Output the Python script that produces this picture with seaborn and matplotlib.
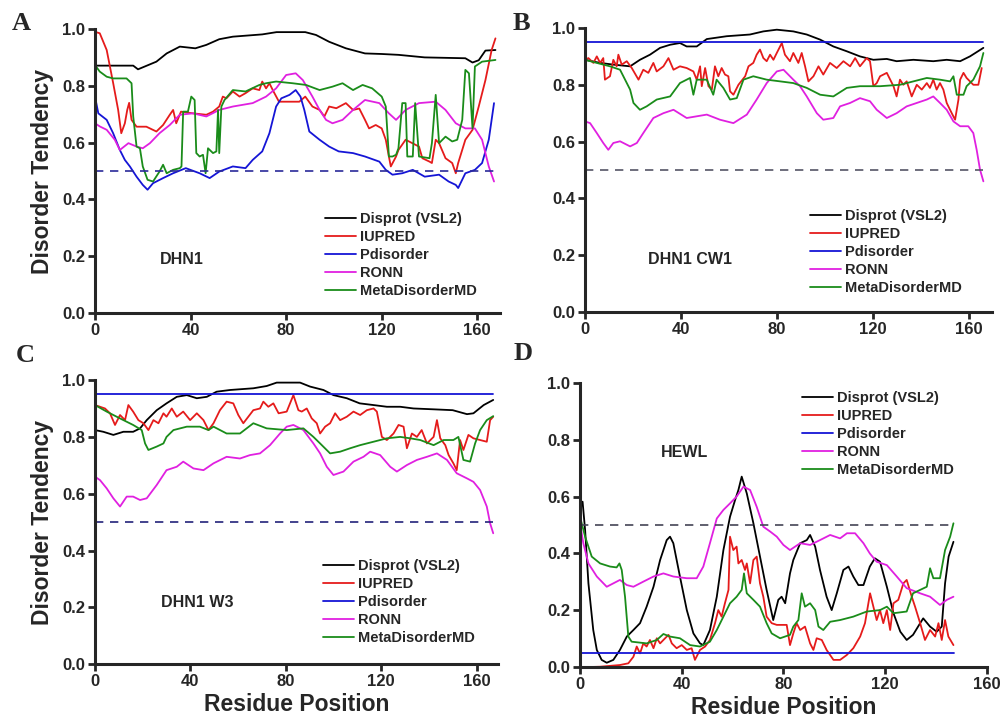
import matplotlib
matplotlib.use('Agg')
import matplotlib.pyplot as plt
import seaborn as sns

sns.set_style('ticks')
plt.rcParams['font.family'] = ['Liberation Sans', 'DejaVu Sans']
plt.rcParams['font.weight'] = 'bold'

labels = ['Disprot (VSL2)', 'IUPRED', 'Pdisorder', 'RONN', 'MetaDisorderMD']
colors = ['black', '#e51b1b', '#1515d6', '#e020e0', '#1a8c1a']
threshold = 0.5

# ---- panel A: DHN1 ----
a_vsl2_x = [0, 16, 18, 25.7, 30, 35.5, 42, 46.6, 52, 57.7, 70, 76, 88, 92.5, 98, 105, 113, 120, 127, 138, 155, 158, 160.6, 163.4, 167.6]
a_vsl2_y = [0.871, 0.871, 0.858, 0.885, 0.914, 0.938, 0.932, 0.944, 0.964, 0.973, 0.981, 0.989, 0.989, 0.979, 0.955, 0.932, 0.914, 0.912, 0.909, 0.90, 0.897, 0.882, 0.89, 0.924, 0.926]
a_iupred_x = [0, 2, 4.9, 7.6, 9.7, 11, 12.5, 13.5, 14.3, 15.3, 17.4, 21.5, 25.7, 28.5, 31.3, 32.7, 34, 36, 41, 46.6,
              49.4, 52, 53.5, 55, 57.7, 60.5, 63, 66, 68.8, 70, 71.6, 73, 74.4, 77, 85.5, 88, 91, 94, 96, 98,
              101, 105, 108, 110.6, 113, 114.7, 117.5, 120, 121.7, 123, 123.8, 126, 127, 130, 132.8, 135.6, 137, 140, 141, 142.6,
              144, 146.7, 149.5, 151, 152, 155, 158, 160.6, 163.4, 166, 167.6]
a_iupred_y = [0.99, 0.985, 0.926, 0.81, 0.715, 0.633, 0.668, 0.715, 0.74, 0.68, 0.656, 0.656, 0.639, 0.662, 0.698, 0.715, 0.668, 0.709, 0.703, 0.698,
              0.709, 0.727, 0.762, 0.756, 0.78, 0.762, 0.774, 0.791, 0.785, 0.815, 0.791, 0.809, 0.785, 0.744, 0.744, 0.762, 0.727, 0.715, 0.692, 0.727,
              0.721, 0.739, 0.715, 0.72, 0.68, 0.65, 0.662, 0.65, 0.61, 0.551, 0.516, 0.551, 0.574, 0.61, 0.598, 0.586, 0.545, 0.533, 0.528, 0.61,
              0.598, 0.545, 0.528, 0.492, 0.528, 0.61, 0.645, 0.727, 0.82, 0.926, 0.967]
a_pdis_x = [0, 1.4, 4.9, 7.6, 10.4, 12.5, 14.6, 17.4, 20, 22, 24.3, 28.5, 32.7, 38, 43.8, 48, 52, 57.7, 63, 66,
            70, 73, 75.8, 78, 81.4, 84, 86, 87.6, 89.7, 94, 98, 102, 108, 113, 119, 121.7, 124.5, 128.6, 133, 138,
            144, 148, 151, 152, 155, 159, 162, 164.8, 167]
a_pdis_y = [0.762, 0.703, 0.68, 0.633, 0.574, 0.539, 0.516, 0.48, 0.451, 0.434, 0.457, 0.475, 0.492, 0.51, 0.492, 0.475, 0.498, 0.516, 0.51, 0.539,
            0.569, 0.633, 0.727, 0.756, 0.768, 0.785, 0.762, 0.715, 0.639, 0.61, 0.586, 0.569, 0.563, 0.551, 0.533, 0.504, 0.487, 0.492, 0.504, 0.48,
            0.487, 0.463, 0.451, 0.44, 0.492, 0.504, 0.528, 0.61, 0.739]
a_ronn_x = [0, 2, 4.9, 8.3, 10.4, 14, 17.4, 20, 23, 27, 31.3, 35.5, 41, 46.6, 52, 57.7, 66, 71.6, 75.8, 80,
            84, 87, 91, 94, 96.7, 99.4, 103.6, 108, 113, 119, 123, 126, 130, 135.6, 142.6, 146.7, 151, 155, 159, 162,
            164.8, 167]
a_ronn_y = [0.668, 0.657, 0.645, 0.61, 0.574, 0.598, 0.586, 0.58, 0.598, 0.633, 0.662, 0.698, 0.703, 0.692, 0.715, 0.727, 0.739, 0.762, 0.791, 0.838,
            0.844, 0.82, 0.762, 0.715, 0.68, 0.668, 0.68, 0.715, 0.75, 0.739, 0.703, 0.68, 0.715, 0.739, 0.744, 0.715, 0.668, 0.65, 0.65, 0.61,
            0.516, 0.463]
a_meta_x = [0, 2, 4.9, 7.6, 13.2, 15.3, 16, 17.4, 18.8, 20, 22, 24.3, 27, 28.5, 30, 32.7, 35.5, 36.2, 36.9, 38.9,
            40.3, 41.7, 42.4, 43.8, 45.2, 46.3, 47.3, 49.4, 50.8, 51.5, 52, 52.9, 54.2, 57.7, 63, 68.8, 71.6, 75.8, 82.7, 88.3,
            94, 99.4, 103.6, 108, 112, 116, 120, 121.7, 123, 124.5, 126, 127, 128.6, 130, 130.7, 133, 134, 135.6, 140, 141,
            142.6, 144, 146.7, 149.5, 151.6, 153.7, 155, 156.5, 158, 159, 162, 167.6]
a_meta_y = [0.873, 0.85, 0.832, 0.826, 0.826, 0.809, 0.692, 0.586, 0.58, 0.516, 0.469, 0.463, 0.498, 0.522, 0.492, 0.504, 0.51, 0.516, 0.709, 0.709,
            0.762, 0.75, 0.563, 0.551, 0.557, 0.492, 0.58, 0.563, 0.569, 0.715, 0.563, 0.727, 0.75, 0.785, 0.78, 0.803, 0.809, 0.815, 0.809, 0.803,
            0.785, 0.797, 0.809, 0.785, 0.803, 0.791, 0.762, 0.727, 0.551, 0.551, 0.557, 0.58, 0.739, 0.739, 0.551, 0.551, 0.739, 0.551, 0.545, 0.598,
            0.768, 0.598, 0.621, 0.604, 0.61, 0.68, 0.856, 0.844, 0.65, 0.868, 0.885, 0.891]

# ---- panel B: DHN1 CW1 ----
b_vsl2_x = [0, 6.3, 11.8, 18.8, 22.9, 27.1, 31.3, 35.5, 39.6, 42.4, 46.6, 50.8, 59.1, 68.8, 74.4, 80, 86.9, 92.5, 98.1, 103.6,
            109.2, 114.7, 120.3, 125.9, 130, 137, 145.3, 150.9, 156.5, 160.6, 166.2]
b_vsl2_y = [0.888, 0.877, 0.871, 0.865, 0.888, 0.906, 0.93, 0.941, 0.947, 0.935, 0.935, 0.961, 0.971, 0.977, 0.988, 0.994, 0.988, 0.977, 0.959, 0.935,
            0.918, 0.9, 0.888, 0.891, 0.883, 0.888, 0.883, 0.888, 0.883, 0.9, 0.93]
b_iupred_x = [0, 1.4, 3.5, 4.9, 6.3, 7.6, 8.3, 10.4, 11.8, 13.2, 13.9, 15.3, 17.4, 19.5, 22.3, 24.3, 26.4, 28.5, 29.9, 32.7,
              34.8, 36.9, 39.6, 42.4, 45.2, 46.6, 48, 48.7, 50.1, 51.5, 52.9, 54.2, 55.6, 57, 58.4, 59.8, 60.5, 61.9, 64, 66.8,
              68.2, 70.2, 71.6, 73, 74.4, 75.8, 77.2, 78.6, 80, 82.1, 83.4, 85.5, 86.9, 89, 90.4, 91.8, 93.2, 95.3, 97.4, 99.4,
              102.2, 105, 107.8, 110.6, 112.7, 114.7, 117.5, 118.9, 120.3, 121.7, 123.1, 125.9, 128.7, 130, 131.4, 132.8, 134.2, 136.3, 138.4, 140.5,
              142.6, 143.9, 145.3, 146.7, 148.1, 149.5, 150.9, 153, 154.4, 155.8, 156.5, 157.9, 159.2, 162, 164.1, 165.5]
b_iupred_y = [0.888, 0.894, 0.877, 0.9, 0.877, 0.894, 0.818, 0.83, 0.888, 0.865, 0.906, 0.871, 0.883, 0.859, 0.818, 0.853, 0.842, 0.877, 0.847, 0.865,
              0.894, 0.853, 0.865, 0.859, 0.847, 0.818, 0.865, 0.795, 0.859, 0.795, 0.783, 0.865, 0.83, 0.859, 0.836, 0.83, 0.777, 0.765, 0.8, 0.83,
              0.865, 0.877, 0.906, 0.924, 0.894, 0.883, 0.906, 0.888, 0.912, 0.947, 0.906, 0.883, 0.912, 0.877, 0.912, 0.865, 0.812, 0.83, 0.865, 0.836,
              0.877, 0.859, 0.883, 0.865, 0.894, 0.865, 0.894, 0.883, 0.795, 0.806, 0.83, 0.842, 0.795, 0.759, 0.818, 0.8, 0.812, 0.759, 0.8, 0.783,
              0.806, 0.789, 0.818, 0.783, 0.806, 0.783, 0.736, 0.7, 0.677, 0.748, 0.818, 0.842, 0.824, 0.8, 0.8, 0.859]
b_pdis_x = [0, 166]
b_pdis_y = [0.95, 0.95]
b_ronn_x = [0, 2.1, 4.9, 7.6, 9.7, 11.8, 14.6, 18.8, 21.6, 24.3, 28.5, 32.7, 36.9, 42.4, 46.6, 50.8, 56.3, 61.9, 67.5, 71.6,
            75.8, 80, 82.8, 86.9, 89.7, 92.5, 96.7, 99.4, 103.6, 106.4, 110.6, 114.7, 118.9, 121.7, 125.9, 130, 134.2, 138.4, 142.6, 145.3,
            148.1, 150.9, 153.7, 156.5, 159.9, 162, 163.4, 164.8, 166.2]
b_ronn_y = [0.671, 0.665, 0.63, 0.595, 0.571, 0.595, 0.601, 0.583, 0.595, 0.63, 0.683, 0.7, 0.712, 0.683, 0.689, 0.695, 0.677, 0.665, 0.695, 0.748,
            0.806, 0.847, 0.853, 0.818, 0.795, 0.759, 0.7, 0.677, 0.683, 0.724, 0.736, 0.753, 0.742, 0.712, 0.683, 0.7, 0.724, 0.736, 0.748, 0.759,
            0.736, 0.712, 0.671, 0.654, 0.654, 0.63, 0.571, 0.501, 0.46]
b_meta_x = [0, 4.9, 10.4, 14.6, 16.7, 18.8, 20.2, 22.9, 25.7, 29.9, 35.5, 39.6, 43.8, 45.2, 46.6, 50.8, 53.5, 54.9, 57.7, 60.5,
            63.3, 66.1, 70.2, 75.8, 81.4, 86.9, 92.5, 98.1, 103.6, 109.2, 114.7, 123.1, 131.4, 137, 142.6, 148.1, 152.3, 153.7, 155.1, 157.9,
            159.2, 162, 164.8, 166.2]
b_meta_y = [0.888, 0.877, 0.865, 0.853, 0.818, 0.783, 0.736, 0.712, 0.724, 0.748, 0.759, 0.806, 0.824, 0.765, 0.818, 0.818, 0.765, 0.818, 0.789, 0.748,
            0.753, 0.818, 0.83, 0.818, 0.812, 0.806, 0.789, 0.765, 0.759, 0.789, 0.795, 0.795, 0.8, 0.812, 0.824, 0.818, 0.812, 0.83, 0.765, 0.765,
            0.795, 0.818, 0.865, 0.912]

# ---- panel C: DHN1 W3 ----
c_vsl2_x = [0, 3.5, 7.7, 11.9, 16, 18.9, 21.7, 25.9, 30, 34.3, 38.5, 42.7, 46.9, 51, 56.6, 66.4, 72, 76.2, 86, 90.2,
            95.8, 100, 105.6, 111, 116.8, 122.4, 128, 133.6, 142, 150, 156, 158.7, 163, 167]
c_vsl2_y = [0.824, 0.818, 0.807, 0.818, 0.818, 0.83, 0.859, 0.894, 0.918, 0.941, 0.947, 0.936, 0.941, 0.959, 0.965, 0.971, 0.979, 0.991, 0.991, 0.977,
            0.965, 0.947, 0.936, 0.918, 0.912, 0.906, 0.906, 0.9, 0.897, 0.894, 0.88, 0.883, 0.912, 0.93]
c_iupred_x = [0, 2.1, 4.2, 6.3, 8.4, 10.5, 12.6, 14, 16, 18.2, 20.3, 22.4, 24.5, 26.6, 28.7, 30, 32.2, 34.3, 37, 39.9,
              42.7, 45.5, 47.6, 49.7, 52.4, 55.2, 58, 60.1, 62.2, 64.3, 66.4, 69.2, 70.6, 72.7, 74.8, 77, 80.4, 83.2, 85.3, 86.7,
              88.8, 90.9, 93, 94.4, 96.5, 98.6, 100.7, 102.8, 105.6, 108.4, 111.2, 114, 116.8, 118.2, 120.3, 122.4, 125.2, 127.3, 129.4, 130.8,
              132.9, 135, 137, 139.2, 142, 143.4, 144.8, 146.9, 148.3, 150.3, 151.7, 153.1, 154.5, 156.6, 158.7, 161.5, 164.3, 165.7, 167]
c_iupred_y = [0.912, 0.906, 0.9, 0.883, 0.842, 0.877, 0.859, 0.912, 0.889, 0.859, 0.848, 0.824, 0.859, 0.848, 0.883, 0.871, 0.9, 0.871, 0.889, 0.859,
              0.883, 0.859, 0.824, 0.848, 0.894, 0.924, 0.918, 0.877, 0.848, 0.871, 0.894, 0.9, 0.924, 0.906, 0.918, 0.883, 0.889, 0.947, 0.894, 0.889,
              0.9, 0.865, 0.848, 0.812, 0.836, 0.848, 0.883, 0.859, 0.871, 0.889, 0.877, 0.894, 0.9, 0.889, 0.8, 0.789, 0.812, 0.842, 0.836, 0.76,
              0.812, 0.8, 0.824, 0.777, 0.8, 0.859, 0.795, 0.771, 0.736, 0.707, 0.683, 0.789, 0.754, 0.807, 0.795, 0.789, 0.783, 0.859, 0.871]
c_pdis_x = [0, 167]
c_pdis_y = [0.95, 0.95]
c_ronn_x = [0, 2.1, 4.9, 7.7, 10.5, 13.3, 16, 18.9, 21.7, 25.9, 30, 34.3, 37, 41.3, 45.5, 49.7, 55.2, 60.8, 65, 69.2,
            73.4, 77.6, 80.4, 83.2, 87.4, 91.6, 94.4, 97.2, 100, 104.2, 108.4, 112.6, 115.4, 119.6, 123.8, 126.6, 130.8, 135, 139.2, 143.4,
            147.6, 151.7, 156, 158.7, 161.5, 164.3, 165.7, 167]
c_ronn_y = [0.66, 0.648, 0.619, 0.584, 0.555, 0.59, 0.59, 0.578, 0.584, 0.631, 0.683, 0.695, 0.713, 0.689, 0.683, 0.707, 0.73, 0.724, 0.736, 0.742,
            0.771, 0.812, 0.836, 0.842, 0.824, 0.777, 0.742, 0.695, 0.666, 0.678, 0.713, 0.73, 0.748, 0.736, 0.695, 0.678, 0.701, 0.719, 0.73, 0.742,
            0.719, 0.672, 0.654, 0.642, 0.613, 0.555, 0.496, 0.461]
c_meta_x = [0, 4.9, 10.5, 16, 19.6, 21, 22.4, 25.9, 28.7, 30, 32.9, 38.5, 44, 47.6, 49.7, 55.2, 60.8, 66.4, 72, 80.4,
            87.4, 91.6, 94.4, 98.6, 102.8, 107, 111.2, 116.8, 122.4, 128, 132.2, 136.4, 142, 146.2, 150.3, 152.4, 154.5, 157.3, 159.4, 161.5,
            164.3, 167]
c_meta_y = [0.912, 0.889, 0.865, 0.842, 0.824, 0.777, 0.754, 0.766, 0.777, 0.8, 0.824, 0.836, 0.836, 0.824, 0.836, 0.812, 0.812, 0.848, 0.83, 0.824,
            0.83, 0.8, 0.777, 0.742, 0.748, 0.76, 0.771, 0.783, 0.795, 0.8, 0.795, 0.789, 0.771, 0.789, 0.789, 0.8, 0.719, 0.713, 0.777, 0.824,
            0.859, 0.873]

# ---- panel D: HEWL ----
d_vsl2_x = [0, 1, 2, 3.3, 5.2, 6.6, 8.5, 10.5, 13.1, 15.7, 18.4, 21, 23.6, 26.2, 28.9, 31.5, 34.1, 35.4, 36.7, 39.3,
            42, 44.6, 47.2, 48.5, 51.1, 53.8, 56.4, 59, 61, 62.3, 63.6, 65.6, 68.2, 70.8, 73.4, 76, 78, 79.3, 80.7, 82.6,
            83.9, 86.6, 89.2, 90.5, 92.5, 94.4, 97, 99, 101, 103.6, 105.6, 107.5, 109.5, 111.5, 114, 116, 118, 120.7, 123.3, 126,
            128.5, 131, 133.8, 135, 137.7, 140.3, 142.3, 143.6, 145, 146.9]
d_vsl2_y = [0.553, 0.582, 0.482, 0.295, 0.131, 0.061, 0.026, 0.016, 0.026, 0.061, 0.108, 0.131, 0.155, 0.213, 0.283, 0.377, 0.447, 0.459, 0.436, 0.319,
            0.201, 0.119, 0.084, 0.078, 0.131, 0.248, 0.412, 0.529, 0.588, 0.623, 0.67, 0.611, 0.506, 0.389, 0.272, 0.166, 0.237, 0.248, 0.225, 0.33,
            0.377, 0.436, 0.447, 0.465, 0.424, 0.342, 0.248, 0.201, 0.26, 0.342, 0.354, 0.319, 0.289, 0.289, 0.354, 0.383, 0.371, 0.283, 0.19, 0.125,
            0.096, 0.114, 0.155, 0.172, 0.143, 0.125, 0.143, 0.295, 0.389, 0.441]
d_iupred_x = [0, 7.9, 15.7, 19, 21, 22.3, 23.6, 24.9, 26.2, 27.5, 28.9, 30.2, 31.5, 32.8, 34.8, 36.1, 38, 40, 42, 43.9,
              45.2, 47.2, 49.2, 51.1, 53.1, 54.4, 55.7, 57, 58.4, 59, 60.3, 61.6, 62.3, 63.6, 64.9, 65.6, 66.9, 68.2, 69.5, 70.8,
              72.1, 73.4, 75.4, 77.4, 81.3, 82.6, 83.9, 85.2, 86.6, 88.5, 90.5, 91.8, 93.1, 95.1, 97, 99.7, 102.3, 104.9, 107.5, 110.2,
              112.1, 114.1, 115.4, 116.7, 118, 119.3, 120.7, 122, 123.3, 125.2, 127.2, 128.5, 130.5, 131.8, 133.8, 135.7, 137.7, 139.7, 141, 142.3,
              143.6, 144.9, 146.9]
d_iupred_y = [0.0, 0.002, 0.008, 0.014, 0.037, 0.073, 0.049, 0.084, 0.073, 0.096, 0.067, 0.102, 0.084, 0.096, 0.114, 0.084, 0.067, 0.078, 0.061, 0.067,
              0.026, 0.061, 0.073, 0.096, 0.155, 0.201, 0.178, 0.225, 0.272, 0.459, 0.412, 0.424, 0.365, 0.377, 0.342, 0.365, 0.295, 0.377, 0.389, 0.295,
              0.248, 0.178, 0.155, 0.149, 0.149, 0.078, 0.119, 0.155, 0.131, 0.143, 0.084, 0.061, 0.102, 0.096, 0.061, 0.026, 0.026, 0.043, 0.067, 0.108,
              0.155, 0.26, 0.213, 0.166, 0.201, 0.155, 0.201, 0.131, 0.225, 0.237, 0.295, 0.307, 0.248, 0.213, 0.155, 0.096, 0.131, 0.108, 0.155, 0.096,
              0.166, 0.108, 0.078]
d_pdis_x = [0, 147]
d_pdis_y = [0.05, 0.05]
d_ronn_x = [0, 1.3, 3.3, 6.6, 10.5, 13.1, 15.7, 18.4, 21, 24.9, 28.9, 32.8, 36.7, 42, 45.9, 48.5, 51.1, 53.8, 56.4, 59,
            61.6, 64.3, 66.9, 69.5, 72.1, 74.8, 77.4, 80, 82.6, 86.6, 90.5, 94.4, 98.4, 102.3, 105, 108.2, 111.5, 114, 116.7, 120.7,
            124.6, 128.5, 133.8, 137.7, 141.6, 144.3, 146.9]
d_ronn_y = [0.506, 0.436, 0.365, 0.319, 0.283, 0.295, 0.307, 0.289, 0.283, 0.301, 0.319, 0.33, 0.319, 0.313, 0.313, 0.354, 0.436, 0.523, 0.553, 0.576,
            0.6, 0.635, 0.623, 0.564, 0.494, 0.477, 0.459, 0.43, 0.412, 0.436, 0.43, 0.447, 0.465, 0.453, 0.471, 0.471, 0.436, 0.4, 0.371, 0.359,
            0.319, 0.278, 0.26, 0.248, 0.219, 0.237, 0.248]
d_meta_x = [0, 2, 4.6, 7.9, 11.8, 14.4, 15.5, 16.4, 17.7, 19, 20.3, 26.2, 30.2, 32.8, 35.4, 39.3, 43.3, 47.2, 51.1, 53.8,
            56.4, 59, 61.6, 63.6, 64.5, 65.6, 68.2, 70.8, 73.4, 75.4, 78.7, 82.6, 83.9, 85.9, 87.2, 88.5, 90.5, 92.5, 93.8, 95.7,
            98.4, 102.3, 107.5, 112.8, 118, 120.7, 123.3, 128.5, 131, 133.8, 136.4, 137.7, 139, 141.6, 143.6, 145.6, 146.9]
d_meta_y = [0.529, 0.459, 0.389, 0.365, 0.354, 0.351, 0.365, 0.342, 0.248, 0.108, 0.09, 0.084, 0.096, 0.117, 0.108, 0.102, 0.078, 0.073, 0.09, 0.131,
            0.178, 0.225, 0.248, 0.272, 0.33, 0.26, 0.237, 0.213, 0.155, 0.119, 0.102, 0.114, 0.143, 0.166, 0.26, 0.213, 0.225, 0.201, 0.143, 0.131,
            0.16, 0.166, 0.178, 0.196, 0.201, 0.213, 0.19, 0.196, 0.26, 0.272, 0.283, 0.348, 0.313, 0.313, 0.412, 0.459, 0.506]


def draw_panel(ax, series, name, name_xy, leg_xy, xmax, dash_end, dash_color):
    for (xs, ys), lab, col in zip(series, labels, colors):
        sns.lineplot(x=xs, y=ys, ax=ax, color=col, lw=1.3, label=lab,
                     sort=False, estimator=None)
    ax.hlines(threshold, 0, dash_end, colors=dash_color, linestyles=(0, (5, 4)), lw=1.2)
    ax.set_xlim(0, xmax)
    ax.set_ylim(0, 1)
    ax.set_xticks([0, 40, 80, 120, 160])
    ax.set_yticks([0, 0.2, 0.4, 0.6, 0.8, 1.0])
    ax.set_yticklabels(['0.0', '0.2', '0.4', '0.6', '0.8', '1.0'])
    sns.despine(ax=ax)
    for s in ['left', 'bottom']:
        ax.spines[s].set_linewidth(2.2)
    ax.tick_params(direction='out', length=5, width=2, labelsize=12, pad=2)
    ax.text(name_xy[0], name_xy[1], name, transform=ax.transAxes, ha='center',
            va='center', fontsize=11.5, weight='bold')
    ax.legend(loc='upper left', bbox_to_anchor=leg_xy, frameon=False,
              fontsize=10.5, handlelength=2.1, handletextpad=0.3,
              labelspacing=0.27, borderpad=0, borderaxespad=0)


fig = plt.figure(figsize=(10.03, 7.25), dpi=100)
axA = fig.add_axes([0.0947, 0.5683, 0.4038, 0.3917])
axB = fig.add_axes([0.5833, 0.5697, 0.4055, 0.3917])
axC = fig.add_axes([0.0947, 0.0837, 0.4018, 0.3921])
axD = fig.add_axes([0.5783, 0.0796, 0.4055, 0.3925])

draw_panel(axA, [(a_vsl2_x, a_vsl2_y), (a_iupred_x, a_iupred_y), (a_pdis_x, a_pdis_y),
                 (a_ronn_x, a_ronn_y), (a_meta_x, a_meta_y)],
           'DHN1', (0.215, 0.187), (0.568, 0.356), 169.5, 167, '#2a2a9a')
draw_panel(axB, [(b_vsl2_x, b_vsl2_y), (b_iupred_x, b_iupred_y), (b_pdis_x, b_pdis_y),
                 (b_ronn_x, b_ronn_y), (b_meta_x, b_meta_y)],
           'DHN1 CW1', (0.258, 0.183), (0.553, 0.363), 169.7, 166, '#555566')
draw_panel(axC, [(c_vsl2_x, c_vsl2_y), (c_iupred_x, c_iupred_y), (c_pdis_x, c_pdis_y),
                 (c_ronn_x, c_ronn_y), (c_meta_x, c_meta_y)],
           'DHN1 W3', (0.253, 0.219), (0.566, 0.37), 169, 167, '#22227a')
draw_panel(axD, [(d_vsl2_x, d_vsl2_y), (d_iupred_x, d_iupred_y), (d_pdis_x, d_pdis_y),
                 (d_ronn_x, d_ronn_y), (d_meta_x, d_meta_y)],
           'HEWL', (0.258, 0.756), (0.546, 0.97), 160, 147, '#444455')

for ax in [axA, axC]:
    ax.set_ylabel('Disorder Tendency', fontsize=16.5, weight='bold', labelpad=6)
for ax in [axC, axD]:
    ax.set_xlabel('Residue Position', fontsize=16.5, weight='bold', labelpad=3)

for letter, (lx, ly) in zip('ABCD', [(0.021, 0.968), (0.52, 0.968), (0.025, 0.51), (0.521, 0.513)]):
    fig.text(lx, ly, letter, ha='center', va='center', fontsize=19, weight='bold',
             family='Liberation Serif')

fig.savefig('out.png', dpi=100)
